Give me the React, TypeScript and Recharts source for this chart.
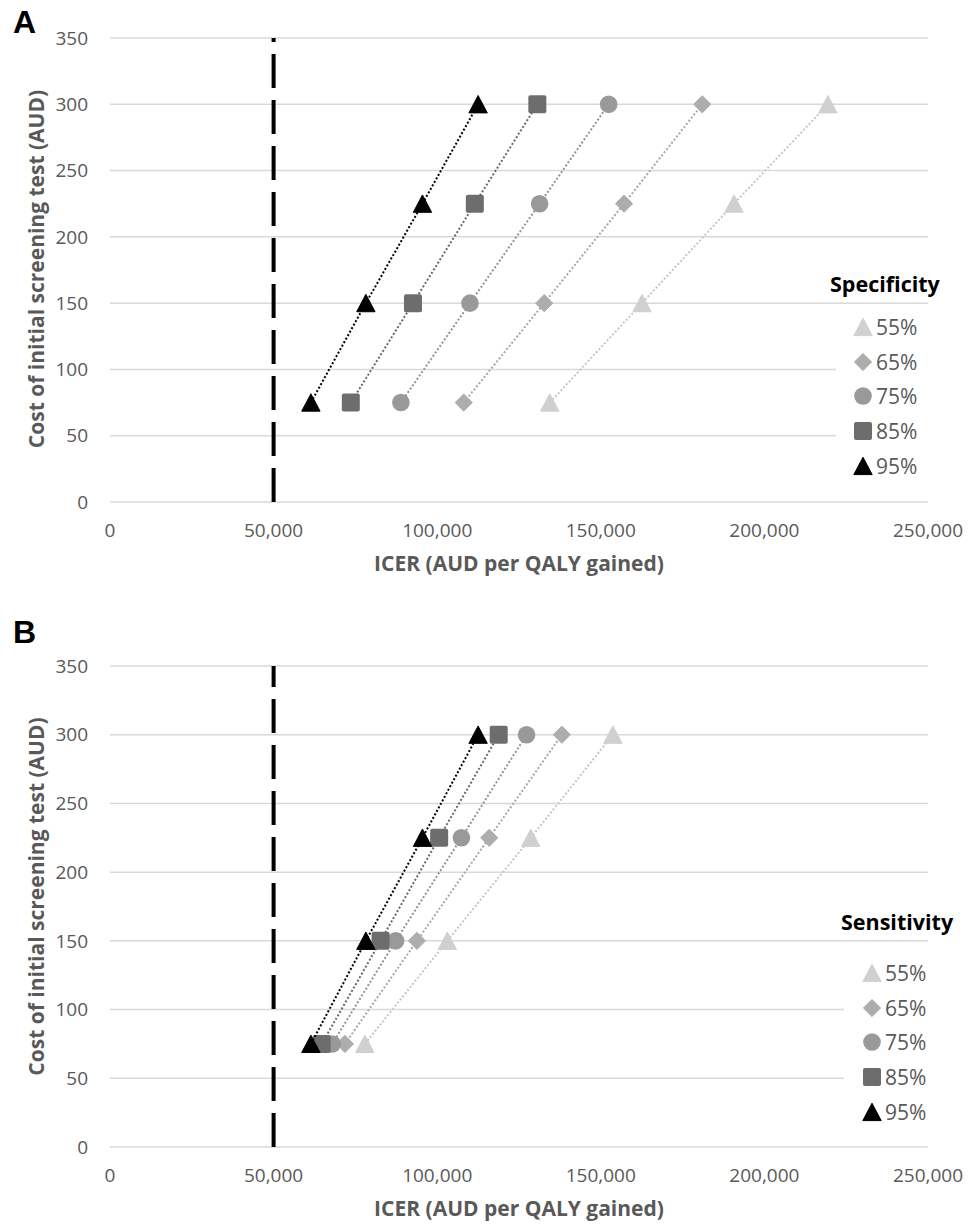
import React from 'react';
import { ScatterChart, Scatter, XAxis, YAxis, CartesianGrid, ReferenceLine, Legend } from 'recharts';

// cost of the initial screening test (AUD), y-values shared by every series
const costLevels = [75, 150, 225, 300];

// panel A: ICER by specificity
const specIcer55 = [134400, 162600, 190700, 219400];
const specIcer65 = [108100, 132700, 157100, 181000];
const specIcer75 = [88900, 110000, 131300, 152400];
const specIcer85 = [73600, 92600, 111500, 130600];
const specIcer95 = [61400, 78200, 95500, 112500];

// panel B: ICER by sensitivity
const sensIcer55 = [77900, 103100, 128600, 153700];
const sensIcer65 = [71800, 93800, 115900, 138100];
const sensIcer75 = [67900, 87300, 107400, 127300];
const sensIcer85 = [64700, 82700, 100600, 118800];
const sensIcer95 = [61400, 78200, 95500, 112500];

const seriesLabels = ['55%', '65%', '75%', '85%', '95%'];
const xTicks = [0, 50000, 100000, 150000, 200000, 250000];
const yTicks = [0, 50, 100, 150, 200, 250, 300, 350];
const threshold = 50000;

type Kind = 'triangle' | 'diamond' | 'circle' | 'square';
const kinds: Kind[] = ['triangle', 'diamond', 'circle', 'square', 'triangle'];
const fills = ['#d0d0d0', '#adadad', '#999999', '#6d6d6d', '#000000'];
const lineColors = ['#c6c6c6', '#a8a8a8', '#939393', '#6a6a6a', '#000000'];

const FONT = '"Open Sans", sans-serif';
const TEXT = '#595959';

const toPoints = (xs: number[]) => xs.map((x, i) => ({ x, y: costLevels[i] }));

const Marker = ({ kind, color, cx, cy }: { kind: Kind; color: string; cx: number; cy: number }) => {
  if (kind === 'triangle') {
    return (
      <polygon
        points={`${cx},${cy - 8.8} ${cx + 9.2},${cy + 8.6} ${cx - 9.2},${cy + 8.6}`}
        fill={color}
        stroke={color}
        strokeWidth={1}
        strokeLinejoin="round"
      />
    );
  }
  if (kind === 'diamond') {
    return (
      <polygon
        points={`${cx},${cy - 8.6} ${cx + 8.6},${cy} ${cx},${cy + 8.6} ${cx - 8.6},${cy}`}
        fill={color}
        stroke={color}
        strokeWidth={1}
        strokeLinejoin="round"
      />
    );
  }
  if (kind === 'circle') {
    return <circle cx={cx} cy={cy} r={8.8} fill={color} />;
  }
  return <rect x={cx - 9} y={cy - 9} width={18} height={18} rx={2} fill={color} />;
};

// rotated y-axis title, centred on the plot with a small per-panel shift
const YTitle = (props: any) => {
  const { viewBox, shift = 0 } = props;
  const cx = viewBox.x + 36;
  const cy = viewBox.y + viewBox.height / 2 + shift;
  return (
    <text
      x={cx}
      y={cy}
      transform={`rotate(-90 ${cx} ${cy})`}
      textAnchor="middle"
      dominantBaseline="central"
      fill={TEXT}
      fontSize={21}
      fontWeight={700}
      fontFamily={FONT}
    >
      Cost of initial screening test (AUD)
    </text>
  );
};

interface LegendPos {
  title: string;
  titleLeft: number;
  titleTop: number;
  boxLeft: number;
  boxTop: number;
  markerX: number;
}

const PanelLegend = ({ pos }: { pos: LegendPos }) => (
  <div style={{ position: 'relative', fontFamily: FONT }}>
    <div
      style={{
        position: 'absolute',
        left: pos.titleLeft,
        top: pos.titleTop,
        fontSize: 21.5,
        fontWeight: 700,
        color: '#000',
        lineHeight: '28px',
        whiteSpace: 'nowrap',
      }}
    >
      {pos.title}
    </div>
    <div
      style={{
        position: 'absolute',
        left: pos.boxLeft,
        top: pos.boxTop,
        width: 135,
        background: '#fff',
      }}
    >
      {seriesLabels.map((label, i) => (
        <div key={label} style={{ display: 'flex', alignItems: 'center', height: 34.6 }}>
          <svg width={20} height={20} style={{ marginLeft: pos.markerX - 10 }}>
            <Marker kind={kinds[i]} color={fills[i]} cx={10} cy={10} />
          </svg>
          <span style={{ fontSize: 21, color: TEXT, marginLeft: 3, lineHeight: '20px' }}>{label}</span>
        </div>
      ))}
    </div>
  </div>
);

interface PanelProps {
  top: number;
  height: number;
  marginTop: number;
  plotHeight: number;
  titleShift: number;
  series: number[][];
  legend: LegendPos;
}

const Panel = ({ top, height, marginTop, plotHeight, titleShift, series, legend }: PanelProps) => (
  <div style={{ position: 'absolute', left: 0, top, width: 971, height }}>
    <ScatterChart width={971} height={height} margin={{ top: marginTop, right: 43, bottom: 0, left: 0 }}>
      <CartesianGrid horizontal vertical={false} stroke="#d9d9d9" strokeWidth={1.5} />
      <XAxis
        type="number"
        dataKey="x"
        domain={[0, 250000]}
        ticks={xTicks}
        interval={0}
        height={height - marginTop - plotHeight}
        axisLine={false}
        tickLine={false}
        tickSize={0}
        tickMargin={22}
        tick={{ fill: TEXT, fontSize: 19, fontFamily: FONT }}
        tickFormatter={(v: number) => v.toLocaleString('en-US')}
        label={{
          value: 'ICER (AUD per QALY gained)',
          position: 'insideTop',
          offset: 54,
          style: { fill: TEXT, fontSize: 21, fontWeight: 700, fontFamily: FONT },
        }}
      />
      <YAxis
        type="number"
        dataKey="y"
        domain={[0, 350]}
        ticks={yTicks}
        interval={0}
        width={110}
        axisLine={false}
        tickLine={false}
        tickSize={0}
        tickMargin={22}
        tick={{ fill: TEXT, fontSize: 19, fontFamily: FONT }}
        label={<YTitle shift={titleShift} />}
      />
      <ReferenceLine x={threshold} stroke="#000" strokeWidth={4} strokeDasharray="34 12" />
      {series.map((xs, i) => (
        <Scatter
          key={seriesLabels[i]}
          name={seriesLabels[i]}
          data={toPoints(xs)}
          fill={fills[i]}
          line={{ stroke: lineColors[i], strokeWidth: 2, strokeDasharray: '2 2' }}
          lineType="joint"
          isAnimationActive={false}
          shape={(p: any) => <Marker kind={kinds[i]} color={fills[i]} cx={p.cx} cy={p.cy} />}
        />
      ))}
      <Legend
        layout="vertical"
        align="center"
        verticalAlign="middle"
        wrapperStyle={{ left: 0, top: 0, width: 0, height: 0 }}
        content={() => <PanelLegend pos={legend} />}
      />
    </ScatterChart>
  </div>
);

const panelLabel = (text: string, top: number) => (
  <div
    style={{
      position: 'absolute',
      left: 13,
      top,
      fontFamily: '"Liberation Sans", Arial, sans-serif',
      fontWeight: 700,
      fontSize: 32,
      lineHeight: '32px',
      color: '#000',
    }}
  >
    {text}
  </div>
);

export default function App() {
  return (
    <div style={{ position: 'absolute', left: 0, top: 0, width: 971, height: 1224, background: '#fff', overflow: 'hidden' }}>
      <Panel
        top={0}
        height={600}
        marginTop={38}
        plotHeight={464}
        titleShift={-1}
        series={[specIcer55, specIcer65, specIcer75, specIcer85, specIcer95]}
        legend={{ title: 'Specificity', titleLeft: 830, titleTop: 270, boxLeft: 836, boxTop: 310, markerX: 27 }}
      />
      <Panel
        top={600}
        height={624}
        marginTop={66}
        plotHeight={481}
        titleShift={-10}
        series={[sensIcer55, sensIcer65, sensIcer75, sensIcer85, sensIcer95]}
        legend={{ title: 'Sensitivity', titleLeft: 841, titleTop: 308, boxLeft: 844, boxTop: 356, markerX: 28 }}
      />
      {panelLabel('A', 6)}
      {panelLabel('B', 616)}
    </div>
  );
}
